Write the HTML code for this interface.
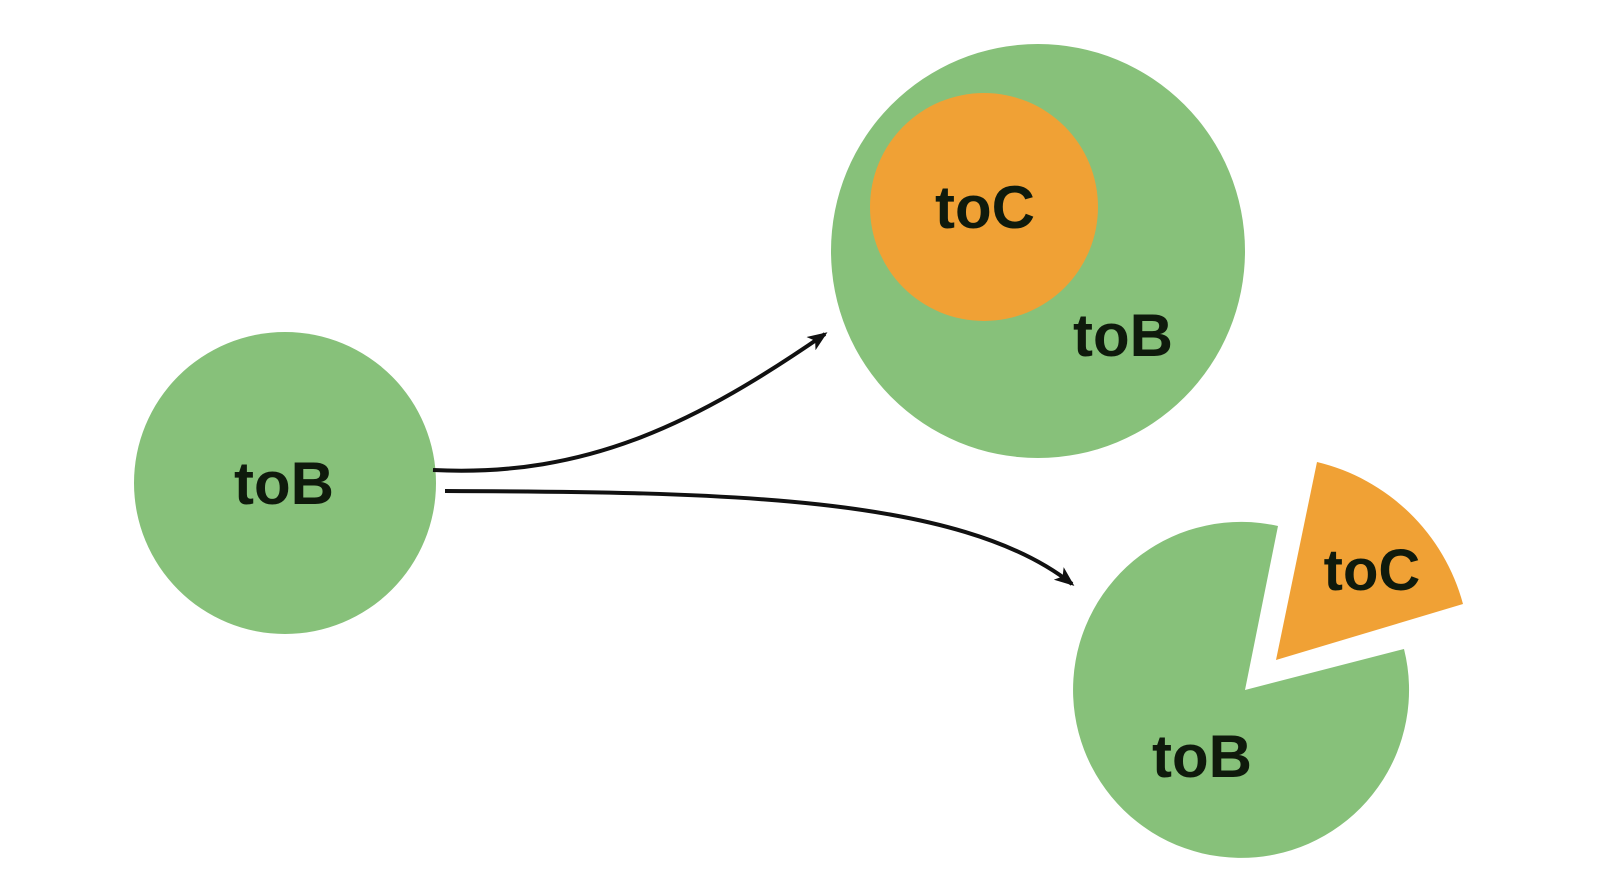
<!DOCTYPE html>
<html><head><meta charset="utf-8"><style>
html,body{margin:0;padding:0;background:#fff;}
svg{display:block;}
text{font-family:"Liberation Sans",Arial,sans-serif;font-weight:bold;fill:#0f1a0c;}
</style></head><body>
<svg width="1599" height="895" viewBox="0 0 1599 895" xmlns="http://www.w3.org/2000/svg">
<defs>
<marker id="ah" markerWidth="20" markerHeight="16" refX="17" refY="8" orient="auto" markerUnits="userSpaceOnUse">
<path d="M0,0 L20,8 L0,16 L5,8 z" fill="#111"/>
</marker>
</defs>
<circle cx="285" cy="483" r="151" fill="#87c17a"/>
<text x="284" y="504" font-size="60" text-anchor="middle">toB</text>

<circle cx="1038" cy="251" r="207" fill="#87c17a"/>
<circle cx="984" cy="207" r="114" fill="#f0a135"/>
<text x="985" y="228" font-size="60" text-anchor="middle">toC</text>
<text x="1123" y="356" font-size="60" text-anchor="middle">toB</text>

<path d="M433,470 C590,478 700,420 825,334" fill="none" stroke="#111" stroke-width="4" marker-end="url(#ah)"/>
<path d="M445,491 C720,492 960,495 1072,584" fill="none" stroke="#111" stroke-width="4" marker-end="url(#ah)"/>

<!-- pie -->
<path d="M1245,690 L1278,526 A168,168 0 1 0 1404,649 Z" fill="#87c17a"/>
<path d="M1276,660 L1317,462 A199,199 0 0 1 1463,604 Z" fill="#f0a135"/>
<text x="1372" y="590" font-size="58" text-anchor="middle">toC</text>
<text x="1202" y="777" font-size="60" text-anchor="middle">toB</text>
</svg>
</body></html>
